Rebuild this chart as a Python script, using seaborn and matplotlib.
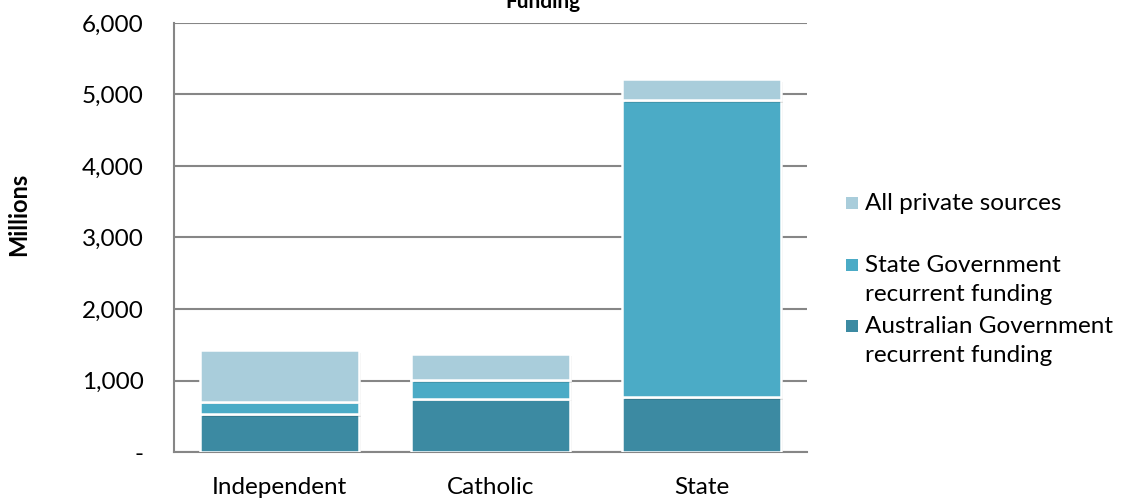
import matplotlib
matplotlib.use("Agg")
import matplotlib.pyplot as plt
import matplotlib.patheffects as pe
from matplotlib.patches import Rectangle
from matplotlib.ticker import FuncFormatter
import seaborn as sns
import numpy as np

categories = ["Independent", "Catholic", "State"]
aus_gov = [527, 746, 769]
state_gov = [179, 257, 4154]
private = [716, 372, 290]
series_names = ["All private sources", "State Government\nrecurrent funding",
                "Australian Government\nrecurrent funding"]
yticks = [0, 1000, 2000, 3000, 4000, 5000, 6000]

c_aus = "#3C8AA2"
c_state = "#4BABC6"
c_priv = "#A9CDDB"

sns.set_style("white")
plt.rcParams["font.family"] = ["Lato", "DejaVu Sans"]
plt.rcParams["text.color"] = "black"

fig = plt.figure(figsize=(11.22, 4.98), dpi=100)
ax = fig.add_axes([174/1122, 1-452/498, (807-174)/1122, (452-23)/498])

shadow = [pe.SimplePatchShadow(offset=(2, -2), shadow_rgbFace="#000000", alpha=0.12), pe.Normal()]
bottoms = np.zeros(3)
for vals, col in [(aus_gov, c_aus), (state_gov, c_state), (private, c_priv)]:
    sns.barplot(x=categories, y=vals, bottom=bottoms, color=col, width=0.75,
                edgecolor="white", linewidth=1.8, ax=ax, zorder=3, saturation=1)
    bottoms = bottoms + np.array(vals)

for p in ax.patches:
    p.set_path_effects(shadow)

ax.set_ylim(0, 6000)
ax.set_xlim(-0.5, 2.5)
ax.set_yticks(yticks)
ax.yaxis.set_major_formatter(FuncFormatter(lambda v, _: "-" if v == 0 else f"{int(v):,}"))
ax.grid(axis="y", color="#868686", linewidth=1.5, zorder=0)
ax.set_axisbelow(True)
for s in ["top", "right"]:
    ax.spines[s].set_visible(False)
for s in ["left", "bottom"]:
    ax.spines[s].set_color("#868686")
    ax.spines[s].set_linewidth(1.5)
ax.tick_params(axis="y", length=0, pad=22, labelsize=17.5, labelcolor="black")
ax.tick_params(axis="x", length=0, pad=18, labelsize=17.5, labelcolor="black")
ax.set_xlabel("")
ax.set_ylabel("Millions", fontsize=17, fontweight="bold", labelpad=0, color="black")
ax.yaxis.set_label_coords(-0.228, 0.555)

fig.text(543/1122, 1 - 2/498, "Funding", ha="center", va="center", fontsize=15,
         fontweight="bold", color="black")

# legend
leg_items = [(series_names[0], c_priv, 203), (series_names[1], c_state, 265), (series_names[2], c_aus, 326)]
for label, col, yc in leg_items:
    fig.patches.append(Rectangle((846/1122, 1-(yc+6)/498), 12/1122, 12/498,
                                 transform=fig.transFigure, facecolor=col, edgecolor="none"))
    fig.text(865/1122, 1-(yc-10)/498, label, ha="left", va="top", fontsize=17.5,
             linespacing=1.45, color="black")

fig.savefig("out.png", dpi=100)
